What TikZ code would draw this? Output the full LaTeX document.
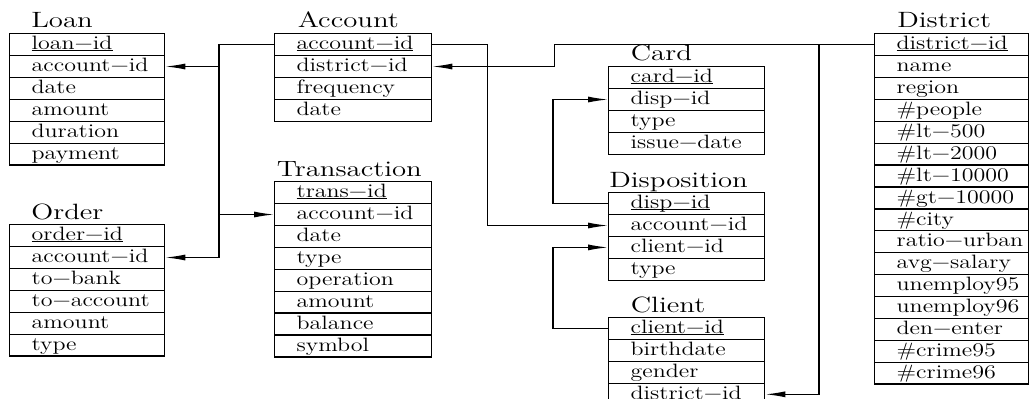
\documentclass[tikz,border=0pt]{standalone}
\usepackage{fontspec}
\usetikzlibrary{arrows.meta}

\newcommand{\keyname}[1]{\setbox0=\hbox{#1}\rlap{\rule[-0.8pt]{\wd0}{0.5pt}}\box0}
\newcommand{\widetext}[1]{\scalebox{1.24}[1]{#1}}
\newcommand{\widetitle}[1]{\scalebox{1.3}[1]{#1}}

\begin{document}
\begin{tikzpicture}[x=0.2mm, y=-0.2mm]
\tikzstyle{every node}+=[inner sep=0pt]
\tikzstyle{field}=[draw, line width=0.75pt, anchor=north west, inner xsep=4.4mm, inner ysep=0pt, text height=3.24mm, text depth=1.14mm, align=left, font=\fontsize{11pt}{12pt}\selectfont]
\tikzstyle{tabtitle}=[anchor=base west, font=\fontsize{12.6pt}{14pt}\selectfont]
\tikzstyle{fk}=[line width=0.7pt, -{Latex[length=4mm,width=1.2mm]}]
\useasboundingbox (0,0) rectangle (1029,399);
% tables
\node[tabtitle] (loan) at (31,28) {\widetitle{Loan}};
\foreach \f [count=\i] in {\keyname{loan−id},account−id,date,amount,duration,payment}
  \node[field, text width=22.2mm] (loan\i) at (9,{33+(\i-1)*21.9}) {\widetext{\f}};
\node[tabtitle] (order) at (31,219) {\widetitle{Order}};
\foreach \f [count=\i] in {\keyname{order−id},account−id,to−bank,to−account,amount,type}
  \node[field, text width=22.2mm] (ord\i) at (9,{224+(\i-1)*21.9}) {\widetext{\f}};
\node[tabtitle] (account) at (297.5,28) {\widetitle{Account}};
\foreach \f [count=\i] in {\keyname{account−id},district−id,frequency,date}
  \node[field, text width=22.6mm] (acc\i) at (274,{33+(\i-1)*21.9}) {\widetext{\f}};
\node[tabtitle] (transaction) at (276.5,176) {\widetitle{Transaction}};
\foreach \f [count=\i] in {\keyname{trans−id},account−id,date,type,operation,amount,balance,symbol}
  \node[field, text width=22.6mm] (trans\i) at (274,{181+(\i-1)*21.9}) {\widetext{\f}};
\node[tabtitle] (card) at (630.5,61) {\widetitle{Card}};
\foreach \f [count=\i] in {\keyname{card−id},disp−id,type,issue−date}
  \node[field, text width=22.4mm] (card\i) at (608,{66+(\i-1)*21.9}) {\widetext{\f}};
\node[tabtitle] (disposition) at (609,187) {\widetitle{Disposition}};
\foreach \f [count=\i] in {\keyname{disp−id},account−id,client−id,type}
  \node[field, text width=22.4mm] (disp\i) at (608,{192+(\i-1)*21.9}) {\widetext{\f}};
\node[tabtitle] (client) at (630.5,312) {\widetitle{Client}};
\foreach \f [count=\i] in {\keyname{client−id},birthdate,gender,district−id}
  \node[field, text width=22.4mm] (client\i) at (608,{317+(\i-1)*21.9}) {\widetext{\f}};
\node[tabtitle] (district) at (897,28) {\widetitle{District}};
\foreach \f [count=\i] in {\keyname{district−id},name,region,\#people,\#lt−500,\#lt−2000,\#lt−10000,\#gt−10000,\#city,ratio−urban,avg−salary,unemploy95,unemploy96,den−enter,\#crime95,\#crime96}
  \node[field, text width=22mm] (dist\i) at (874,{33+(\i-1)*21.9}) {\widetext{\f}};
% foreign keys
\coordinate (accbus) at ([xshift=-11mm]acc1.west);
\draw[fk] (acc1.west) -- (accbus) |- (loan2.east);
\draw[fk] (accbus) |- (trans2.west);
\draw[fk] (accbus) |- (ord2.east);
\draw[fk] (acc1.east) -- ++(55,0) |- (disp2.west);
\draw[fk] (dist1.west) -| ([xshift=24.4mm]acc2.east) -- (acc2.east);
\draw[fk] ([xshift=-11mm]dist1.west) |- (client4.east);
\draw[fk] (disp1.west) -- ++(-55,0) |- (card2.west);
\draw[fk] (client1.west) -- ++(-55,0) |- (disp3.west);
\end{tikzpicture}
\end{document}
